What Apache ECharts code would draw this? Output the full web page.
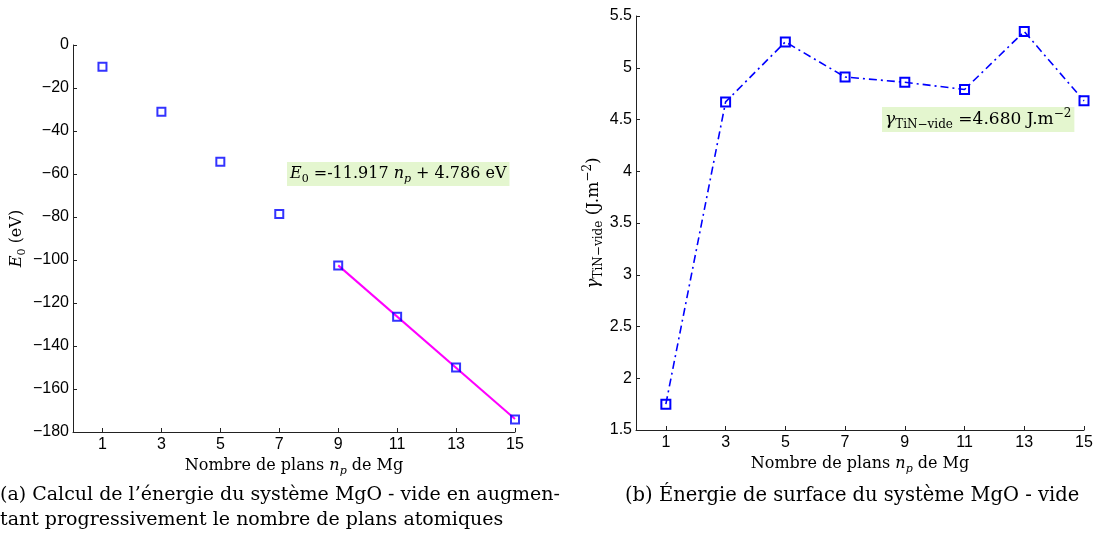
<!DOCTYPE html>
<html><head><meta charset="utf-8">
<script src="https://cdn.jsdelivr.net/npm/echarts@6/dist/echarts.min.js"></script>
<style>html,body{margin:0;padding:0;background:#fff}#c{width:1097px;height:539px}</style>
</head><body><div id="c"></div>
<script>
const planes = [1, 3, 5, 7, 9, 11, 13, 15];
const energyE0 = [-10.1, -31.0, -54.3, -78.6, -102.5, -126.4, -150.0, -174.2];
const fitPlanes = [9, 15];
const fitE0 = [-102.5, -174.0];
const gammaVals = [1.75, 4.67, 5.25, 4.91, 4.86, 4.79, 5.35, 4.68];
const xTicks = [1, 3, 5, 7, 9, 11, 13, 15];

const SERIF = '"DejaVu Serif", serif';
const SANS = '"Liberation Sans", Arial, sans-serif';
const BLUE = '#0000ff';
const BOXBG = '#e4f6cf';

const chart = echarts.init(document.getElementById('c'), null, {renderer: 'canvas'});

function richSet(sz) {
  return {
    t: {fontFamily: SERIF, fontSize: sz, color: '#000', verticalAlign: 'middle', lineHeight: sz + 6},
    i: {fontFamily: SERIF, fontStyle: 'italic', fontSize: sz, color: '#000', verticalAlign: 'middle', lineHeight: sz + 6},
    sub: {fontFamily: SERIF, fontSize: Math.round(sz * 0.7), color: '#000', verticalAlign: 'bottom', lineHeight: Math.round(sz * 0.7)},
    isub: {fontFamily: SERIF, fontStyle: 'italic', fontSize: Math.round(sz * 0.7), color: '#000', verticalAlign: 'bottom', lineHeight: Math.round(sz * 0.7)},
    sup: {fontFamily: SERIF, fontSize: Math.round(sz * 0.7), color: '#000', verticalAlign: 'top', lineHeight: Math.round(sz * 0.7)}
  };
}

const axisCommon = {
  axisLine: {show: true, onZero: false, lineStyle: {color: '#222', width: 1}},
  axisTick: {show: true, inside: true, length: 4, lineStyle: {color: '#222'}},
  splitLine: {show: false},
  axisLabel: {fontFamily: SANS, fontSize: 16, color: '#000'}
};

const xName = '{t|Nombre de plans }{i|n}{isub|p}{t| de Mg}';

const option = {
  animation: false,
  backgroundColor: '#fff',
  grid: [
    {left: 73, top: 45, width: 442, height: 387},
    {left: 636, top: 16, width: 448, height: 414}
  ],
  xAxis: [0, 1].map(g => Object.assign({}, axisCommon, {
    type: 'value', gridIndex: g, min: 0, max: 15,
    axisTick: Object.assign({}, axisCommon.axisTick, {customValues: xTicks}),
    axisLabel: Object.assign({}, axisCommon.axisLabel, {customValues: xTicks, margin: 5}),
    name: xName, nameLocation: 'middle', nameGap: 21,
    nameTextStyle: {rich: richSet(16)}
  })),
  yAxis: [
    Object.assign({}, axisCommon, {
      type: 'value', gridIndex: 0, min: -180, max: 0, interval: 20,
      axisLabel: Object.assign({}, axisCommon.axisLabel, {margin: 4,
        formatter: v => (v < 0 ? '\u2212' + Math.abs(v) : String(v))}),
      name: '{i|E}{sub|0}{t| (eV)}', nameLocation: 'middle', nameRotate: 90, nameGap: 45,
      nameTextStyle: {rich: richSet(16)}
    }),
    Object.assign({}, axisCommon, {
      type: 'value', gridIndex: 1, min: 1.5, max: 5.5, interval: 0.5,
      axisLabel: Object.assign({}, axisCommon.axisLabel, {margin: 4}),
      name: '{i|\u03b3}{sub|TiN\u2212vide}{t| (J.m}{sup|\u22122}{t|)}', nameLocation: 'middle', nameRotate: 90, nameGap: 31,
      nameTextStyle: {rich: richSet(17)}
    })
  ],
  series: [
    {
      type: 'line', xAxisIndex: 0, yAxisIndex: 0,
      data: fitPlanes.map((x, k) => [x, fitE0[k]]),
      showSymbol: false, symbol: 'none',
      lineStyle: {color: '#ff00ff', width: 2}, z: 2
    },
    {
      type: 'scatter', xAxisIndex: 0, yAxisIndex: 0,
      data: planes.map((x, k) => [x, energyE0[k]]),
      symbol: 'rect', symbolSize: 8,
      itemStyle: {color: 'rgba(255,255,255,0)', borderColor: BLUE, borderWidth: 2}, z: 3
    },
    {
      type: 'line', xAxisIndex: 1, yAxisIndex: 1,
      data: planes.map((x, k) => [x, gammaVals[k]]),
      symbol: 'rect', symbolSize: 9, showSymbol: true,
      lineStyle: {color: BLUE, width: 1.6, type: [8, 4, 2, 4]},
      itemStyle: {color: 'rgba(255,255,255,0)', borderColor: BLUE, borderWidth: 2}, z: 3
    }
  ],
  graphic: [
    {
      type: 'text', left: 287, top: 162, z: 10,
      style: {
        text: '{i|E}{sub|0}{t| =-11.917 }{i|n}{isub|p}{t| + 4.786 eV}',
        rich: richSet(16), backgroundColor: BOXBG, padding: [1, 3, 1, 3]
      }
    },
    {
      type: 'text', left: 882, top: 107, z: 10,
      style: {
        text: '{i|\u03b3}{sub|TiN\u2212vide}{t| =4.680 J.m}{sup|\u22122}',
        rich: richSet(17), backgroundColor: BOXBG, padding: [1, 3, 1, 3]
      }
    },
    {
      type: 'text', left: 0, top: 486,
      style: {text: "(a) Calcul de l\u2019\u00e9nergie du syst\u00e8me MgO - vide en augmen-", fontFamily: SERIF, fontSize: 19, fill: '#000'}
    },
    {
      type: 'text', left: 0, top: 511,
      style: {text: 'tant progressivement le nombre de plans atomiques', fontFamily: SERIF, fontSize: 19, fill: '#000'}
    },
    {
      type: 'text', left: 625, top: 486,
      style: {text: '(b) \u00c9nergie de surface du syst\u00e8me MgO - vide', fontFamily: SERIF, fontSize: 19.5, fill: '#000'}
    }
  ]
};
chart.setOption(option);
</script>
</body></html>
